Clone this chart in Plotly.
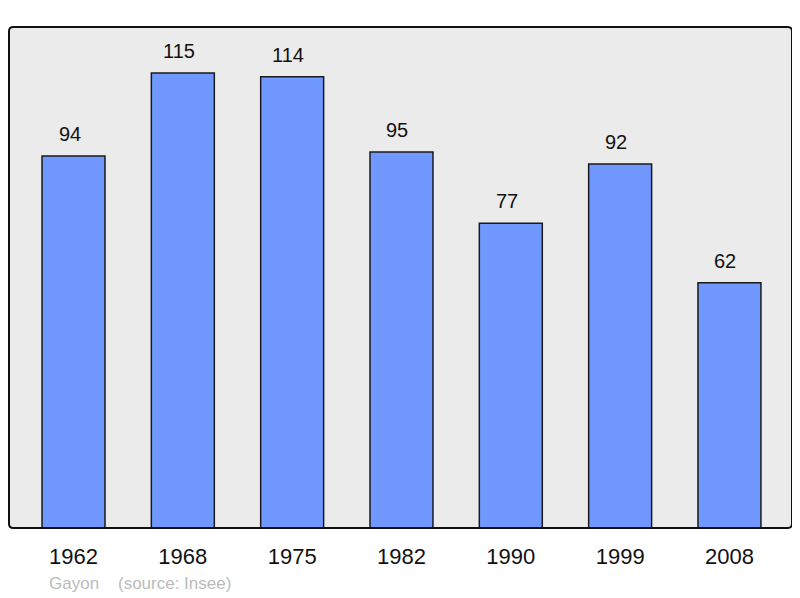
import plotly.graph_objects as go

years = ["1962", "1968", "1975", "1982", "1990", "1999", "2008"]
population = [94, 115, 114, 95, 77, 92, 62]
footer = "Gayon    (source: Insee)"

xs = list(range(len(years)))
FONT = "Liberation Sans, Arial, sans-serif"

fig = go.Figure()
fig.add_trace(go.Bar(
    x=xs, y=population, width=0.576,
    marker=dict(color="#7098ff", line=dict(color="#1a1a1a", width=1.5)),
    hoverinfo="skip",
))

for x, v in zip(xs, population):
    fig.add_annotation(x=x, y=v, text=str(v), showarrow=False,
                       yanchor="bottom", yshift=9, xshift=-4,
                       font=dict(family=FONT, size=20, color="#111111"))

fig.add_annotation(xref="paper", yref="paper", x=0.0485, y=-0.11, xanchor="left", yanchor="middle",
                   text=footer, showarrow=False,
                   font=dict(family=FONT, size=17, color="#bbbbbb"))

# rounded frame path in paper coordinates
rx, ry = 0.0055, 0.0085
frame = (f"M {rx},0 L {1-rx},0 Q 1,0 1,{ry} L 1,{1-ry} Q 1,1 {1-rx},1 "
         f"L {rx},1 Q 0,1 0,{1-ry} L 0,{ry} Q 0,0 {rx},0 Z")

fig.update_layout(
    width=792, height=590,
    margin=dict(l=1, r=8, t=19, b=70),
    paper_bgcolor="white", plot_bgcolor="#ebebeb",
    showlegend=False,
    font=dict(family=FONT, size=22, color="#111111"),
    xaxis=dict(range=[-0.59, 6.572], tickvals=xs, ticktext=years, showgrid=False,
               zeroline=False, ticks="outside", ticklen=9, tickcolor="rgba(0,0,0,0)",
               tickfont=dict(size=22)),
    yaxis=dict(range=[0, 126.6], showgrid=False, zeroline=False, showticklabels=False),
    shapes=[dict(type="path", xref="paper", yref="paper", path=frame,
                 line=dict(color="#111111", width=2), layer="above")],
)

fig.write_html("out.html")
